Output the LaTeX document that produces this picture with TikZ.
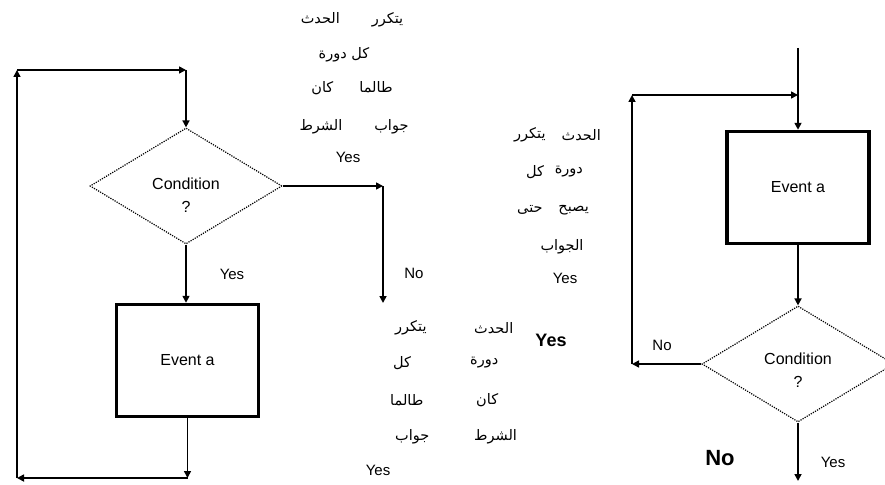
\documentclass[tikz,border=0pt]{standalone}
\usepackage{fontspec}
\setmainfont{Liberation Sans}
\newfontfamily\arabicfont[Script=Arabic]{DejaVu Sans}
\TeXXeTstate=1
\usetikzlibrary{arrows.meta,shapes.geometric}
\newcommand\arw[1]{\hbox{\beginR#1\endR}}
\begin{document}
\begin{tikzpicture}[x=1pt,y=-1pt,
  conn/.style={line width=1.6pt,-{Triangle[length=7pt,width=7pt]}},
  evbox/.style={draw,line width=3.5pt,minimum width=142pt,minimum height=112pt,inner sep=0pt,font=\fontsize{16}{19}\selectfont},
  cond/.style={diamond,draw,line width=1.2pt,dash pattern=on 1.2pt off 1.2pt,minimum width=192pt,minimum height=116pt,aspect=1.66,inner sep=0pt},
  condtxt/.style={align=center,font=\fontsize{16}{23}\selectfont},
  lbl/.style={font=\fontsize{15}{17}\selectfont},
  artxt/.style={font=\arabicfont\fontsize{14.5}{16}\selectfont,inner sep=0pt}]
\useasboundingbox (0,0) rectangle (885,484);

% ---------- left flowchart ----------
\node[cond] (d1) at (186,186) {};
\node[condtxt] (c1) at (186,195) {Condition\\?};
\node[evbox] (e1) at (187.5,360.5) {Event a};
\coordinate (tl) at (17,70);
\coordinate (tr) at (186,70);
\coordinate (bl) at (17,478);
\coordinate (br) at (187.5,478);
\coordinate (nr) at (383,186);
\coordinate (nd) at (383,303);
\draw[conn] (tr) -- (d1.north);
\draw[conn] (d1.south) -- (d1.south |- e1.north);
\draw[conn] (e1.south) -- (br);
\draw[conn] (br) -- (bl);
\draw[conn] (bl) -- (tl);
\draw[conn] (tl) -- (tr);
\draw[conn] (d1.east) -- (nr);
\draw[conn] (nr) -- (nd);
\node[lbl] (y1) at (232,274) {Yes};
\node[lbl] (n1) at (414,273) {No};

% ---------- right flowchart ----------
\node[evbox] (e2) at (798,187.5) {Event a};
\node[cond] (d2) at (798,364) {};
\node[condtxt] (c2) at (798,370) {Condition\\?};
\coordinate (top2) at (798,48);
\coordinate (lb) at (632,364);
\coordinate (lt) at (632,95);
\coordinate (rt) at (798,95);
\coordinate (bot2) at (798,481);
\draw[conn] (top2) -- (e2.north);
\draw[conn] (lt) -- (rt);
\draw[conn] (e2.south) -- (d2.north);
\draw[conn] (d2.west) -- (lb);
\draw[conn] (lb) -- (lt);
\draw[conn] (d2.south) -- (bot2);
\node[lbl] (n2) at (662,345) {No};
\node[font=\bfseries\fontsize{22}{24}\selectfont] (n3) at (720,458) {No};
\node[lbl] (y2) at (833,462) {Yes};

% ---------- Arabic text (top, right-to-left order) ----------
\node[artxt] (a1) at (352,20) {\arw{يتكرر\hspace{32pt}الحدث}};
\node[artxt] (a2) at (344,55) {\arw{كل دورة}};
\node[artxt] (a3) at (352,88) {\arw{طالما\hspace{26pt}كان}};
\node[artxt] (a4) at (354,127) {\arw{جواب\hspace{32pt}الشرط}};
\node[lbl] (a5) at (348,157) {Yes};

% ---------- Arabic text (bottom, words placed left to right) ----------
\node[artxt,anchor=west] (b1l) at (395,328) {\arw{يتكرر}};
\node[artxt,anchor=west] (b1r) at (474,328) {\arw{الحدث}};
\node[artxt,anchor=west] (b2l) at (393,363) {\arw{كل}};
\node[artxt,anchor=west] (b2r) at (470,363) {\arw{دورة}};
\node[artxt,anchor=west] (b3l) at (390,400) {\arw{طالما}};
\node[artxt,anchor=west] (b3r) at (476,400) {\arw{كان}};
\node[artxt,anchor=west] (b4l) at (395,437) {\arw{جواب}};
\node[artxt,anchor=west] (b4r) at (474,437) {\arw{الشرط}};
\node[lbl] (b5) at (378,470) {Yes};

% ---------- Arabic text (right, words placed left to right) ----------
\node[artxt,anchor=west] (r1l) at (514,135) {\arw{يتكرر}};
\node[artxt,anchor=east] (r1r) at (601,135) {\arw{الحدث}};
\node[artxt,anchor=west] (r2l) at (526,172) {\arw{كل}};
\node[artxt,anchor=east] (r2r) at (583,172) {\arw{دورة}};
\node[artxt,anchor=west] (r3l) at (517,210) {\arw{حتى}};
\node[artxt,anchor=east] (r3r) at (589,210) {\arw{يصبح}};
\node[artxt] (r4) at (562,247) {\arw{الجواب}};
\node[lbl] (r5) at (565,278) {Yes};
\node[font=\bfseries\fontsize{18}{20}\selectfont] (ry) at (551,340) {Yes};
\end{tikzpicture}
\end{document}
